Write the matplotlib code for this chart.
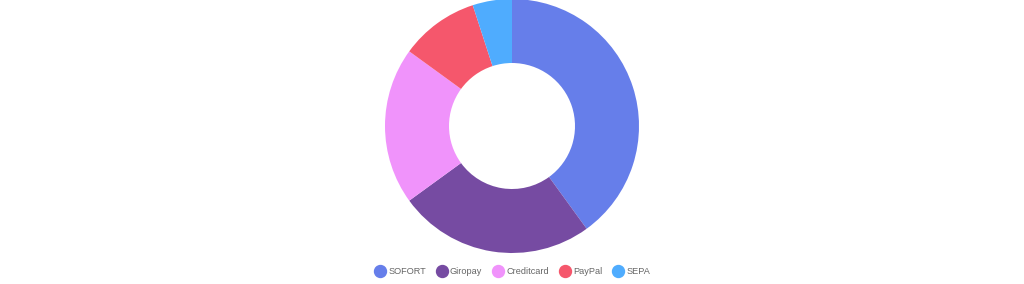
import matplotlib.pyplot as plt
from matplotlib.lines import Line2D

labels = ['SOFORT', 'Giropay', 'Creditcard', 'PayPal', 'SEPA']
shares = [40, 25, 20, 10, 5]
colors = ['#667eea', '#764ba2', '#f093fb', '#f5576c', '#4facfe']

W, H = 1024, 284
fig = plt.figure(figsize=(W / 100, H / 100), dpi=100)
ax = fig.add_axes([0, 0, 1, 1])

# donut centred at (512, 126) px from top, outer r 127, hole r 63
ax.pie(shares, colors=colors, startangle=90, counterclock=False,
       center=(512, H - 126), radius=127,
       wedgeprops=dict(width=64, linewidth=0))
ax.set_xlim(0, W)
ax.set_ylim(0, H)
ax.set_aspect('equal')
ax.axis('off')

fs = 6.6
handles = [Line2D([], [], marker='o', linestyle='none', markersize=8.6,
                  markerfacecolor=c, markeredgecolor=c) for c in colors]
leg = fig.legend(handles, labels, loc='center', bbox_to_anchor=(0.5, 1 - 272 / H),
                 ncol=5, frameon=False, handlelength=1.3,
                 handletextpad=0.27, columnspacing=1.05,
                 prop={'family': 'Liberation Sans', 'size': fs})
for t in leg.get_texts():
    t.set_color('#666666')

fig.savefig('out.png', dpi=100)
